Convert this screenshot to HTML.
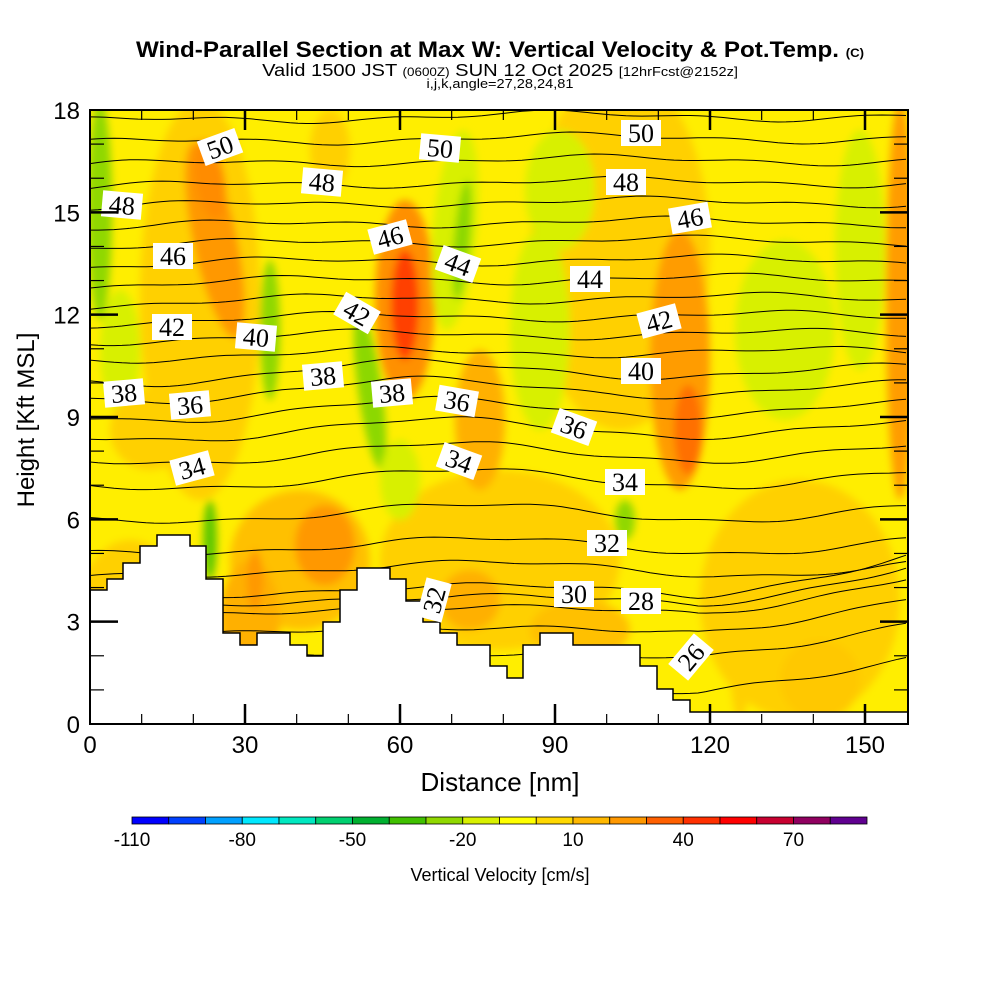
<!DOCTYPE html>
<html><head><meta charset="utf-8"><style>
body{margin:0;background:#fff;width:1000px;height:1000px;overflow:hidden}
svg{display:block}
.t{font-family:"Liberation Sans",sans-serif}
.lb{font-family:"Liberation Serif",serif;font-size:26px}
</style></head><body>
<svg id="s" width="1000" height="1000" xmlns="http://www.w3.org/2000/svg">
<defs><clipPath id="pc"><rect x="90" y="110" width="818" height="614"/></clipPath>
<filter id="bl"><feGaussianBlur stdDeviation="4"/></filter></defs>
<g clip-path="url(#pc)">
<rect x="90" y="110" width="818" height="614" fill="#ffee00"/>
<g id="blobs" filter="url(#bl)"></g>
<g id="lines" fill="none" stroke="#000" stroke-width="1"></g>
<polygon id="terr" fill="#fff" stroke="#000" stroke-width="1.5"/>
</g>
<g id="labels"></g>
<rect x="90" y="110" width="818" height="614" fill="none" stroke="#000" stroke-width="2"/>
<g id="ticks" stroke="#000" stroke-width="2"></g>
<g id="tl" class="t" font-size="24" fill="#000"></g>
<text class="t" x="500" y="57" font-size="22" font-weight="bold" text-anchor="middle" transform="translate(500 0) scale(1.1 1) translate(-500 0)">Wind-Parallel Section at Max W: Vertical Velocity &amp; Pot.Temp. <tspan font-size="12">(C)</tspan></text>
<text class="t" x="500" y="76" font-size="18" text-anchor="middle" transform="translate(500 0) scale(1.12 1) translate(-500 0)">Valid 1500 JST <tspan font-size="12">(0600Z)</tspan> SUN 12 Oct 2025 <tspan font-size="13">[12hrFcst@2152z]</tspan></text>
<text class="t" x="500" y="88" font-size="13" text-anchor="middle" transform="translate(500 0) scale(1.12 1) translate(-500 0)">i,j,k,angle=27,28,24,81</text>
<text class="t" x="500" y="791" font-size="26" text-anchor="middle">Distance [nm]</text>
<text class="t" x="0" y="0" font-size="24" text-anchor="middle" transform="translate(34 420) rotate(-90)">Height [Kft MSL]</text>
<g id="cb"></g>
<text class="t" x="500" y="881" font-size="18" text-anchor="middle">Vertical Velocity [cm/s]</text>
</svg>
<script>
const NS="http://www.w3.org/2000/svg";
function el(p,t,a,txt){const e=document.createElementNS(NS,t);for(const k in a)e.setAttribute(k,a[k]);if(txt!==undefined)e.textContent=txt;document.getElementById(p).appendChild(e);return e;}
const B=[
[200,300,60,200,0,"#ffd000"],[620,250,90,180,0,"#ffd000"],[500,560,120,90,0,"#ffd000"],[300,560,70,70,0,"#ffc000"],
[800,600,100,120,0,"#ffd000"],[250,620,30,60,0,"#ffb000"],
[100,210,12,110,0,"#90d800"],[120,350,20,60,0,"#d8f000"],
[215,240,22,100,-12,"#ff9800"],[210,180,15,40,-10,"#ff8c00"],
[270,330,10,70,0,"#90d800"],[150,430,40,40,0,"#ffd000"],
[405,300,30,100,0,"#ff9000"],[405,305,14,55,0,"#ff4000"],
[370,390,12,80,-8,"#8cd800"],[455,230,22,100,5,"#d8f000"],[462,240,8,60,5,"#8cd800"],
[540,330,30,100,0,"#d8f000"],[480,420,25,70,0,"#ffb000"],
[680,360,30,130,0,"#ff9c00"],[688,430,14,45,0,"#ff7000"],
[785,330,50,90,0,"#d8f000"],[860,250,25,120,0,"#d8f000"],[900,300,14,200,0,"#ff9c00"],
[560,190,35,60,0,"#d8f000"],[470,600,30,30,0,"#ffb000"],
[325,545,30,40,0,"#ff9800"],[255,580,8,30,0,"#ff9800"],[210,540,7,40,0,"#60c800"],
[625,520,10,20,0,"#90d800"],[400,480,20,40,0,"#d8f000"],[740,660,10,60,0,"#ffd000"],[820,680,40,40,0,"#ffc800"],
[130,640,60,100,0,"#ffd000"],[580,630,50,30,0,"#ffc000"],[330,150,20,40,0,"#ffd000"]];
B.forEach(b=>el("blobs","ellipse",{cx:b[0],cy:b[1],rx:b[2],ry:b[3],fill:b[5],transform:`rotate(${b[4]} ${b[0]} ${b[1]})`}));
const base={25:690,26:655,27:630,28:610,29:600,30:590,31:568,32:545,33:512,34:478,35:452,36:428,37:408,38:388,39:370,40:352,41:334,42:316,43:298,44:279,45:260,46:241,47:222,48:202,49:182,50:160,51:138,52:116};
for(const L in base){let d="";for(let x=90;x<=910;x+=8){const lv=+L;let y=base[L]+4*Math.sin(x/70+lv*0.3)+2*Math.sin(x/25+lv)+(lv<40?6*Math.sin(x/90):0)+ (x<400? (400-x)*0.02:0)-(x>700&&lv<31?(x-700)*0.15:0);d+=(x==90?"M":"L")+x+" "+y.toFixed(1);}el("lines","path",{d:d});}
const T=[[90,724],[90,590],[107,590],[107,579],[123,579],[123,563],[140,563],[140,546],[157,546],[157,535],[190,535],[190,546],[206,546],[206,579],[223,579],[223,633],[240,633],[240,645],[257,645],[257,633],[290,633],[290,645],[307,645],[307,656],[323,656],[323,622],[340,622],[340,590],[357,590],[357,568],[390,568],[390,579],[406,579],[406,601],[423,601],[423,622],[440,622],[440,633],[457,633],[457,645],[490,645],[490,666],[507,666],[507,678],[523,678],[523,645],[540,645],[540,633],[573,633],[573,645],[640,645],[640,666],[657,666],[657,689],[673,689],[673,700],[690,700],[690,712],[910,712],[910,724]];
document.getElementById("terr").setAttribute("points",T.map(p=>p.join(",")).join(" "));
const Lb=[["50",220,147,-20],["50",440,148,5],["50",641,133,0],["48",122,205,5],["48",322,182,5],["48",626,182,0],["46",173,256,0],["46",390,237,-15],["46",690,218,-10],["44",458,264,20],["44",590,279,0],["42",172,327,0],["42",357,313,30],["42",659,321,-15],["40",256,337,5],["40",641,371,0],["38",124,393,-5],["38",323,376,-5],["38",392,393,-5],["36",190,405,-5],["36",457,401,10],["36",574,427,20],["34",192,468,-15],["34",459,461,20],["34",625,482,0],["32",607,543,0],["32",434,600,-75],["30",574,594,0],["28",641,601,0],["26",691,657,-50]];
Lb.forEach(l=>{const g=el("labels","g",{transform:`translate(${l[1]} ${l[2]}) rotate(${l[3]})`});const gid="lg"+l[1]+"_"+l[2];g.id=gid;el(gid,"rect",{x:-20,y:-13,width:40,height:26,fill:"#fff"});el(gid,"text",{class:"lb",x:0,y:9,"text-anchor":"middle"},l[0]);});
const yv=v=>724-v*614/18, xv=v=>90+v*775/150;
for(let v=0;v<=18;v++){const y=yv(v),m=v%3==0;const len=m?28:14;
 if(v>0&&v<18){el("ticks","line",{x1:90,y1:y,x2:90+len,y2:y,"stroke-width":m?2.5:1.2});el("ticks","line",{x1:908,y1:y,x2:908-len,y2:y,"stroke-width":m?2.5:1.2});}
 if(m)el("tl","text",{x:80,y:y+9,"text-anchor":"end"},v);}
for(let v=10;v<=150;v+=10){const x=xv(v),m=v%30==0,len=m?20:10;
 el("ticks","line",{x1:x,y1:724,x2:x,y2:724-len,"stroke-width":m?2.5:1.2});el("ticks","line",{x1:x,y1:110,x2:x,y2:110+len,"stroke-width":m?2.5:1.2});}
for(let v=0;v<=150;v+=30)el("tl","text",{x:xv(v),y:753,"text-anchor":"middle"},v);
const C=["#0000ff","#0040ff","#00a0ff","#00e8ff","#00e8c0","#00d070","#00b030","#40c000","#90d800","#d8f000","#ffff00","#ffd800","#ffb800","#ff9800","#ff6000","#ff3000","#ff0000","#c80030","#900060","#600090"];
const w=(867-132)/20;
C.forEach((c,i)=>el("cb","rect",{x:132+i*w,y:817,width:w,height:7,fill:c,stroke:"#000","stroke-width":0.8}));
[-110,-80,-50,-20,10,40,70].forEach((v,i)=>el("cb","text",{class:"t",x:132+i*3*w,y:846,"font-size":19,"text-anchor":"middle"},v));
</script>
</body></html>
